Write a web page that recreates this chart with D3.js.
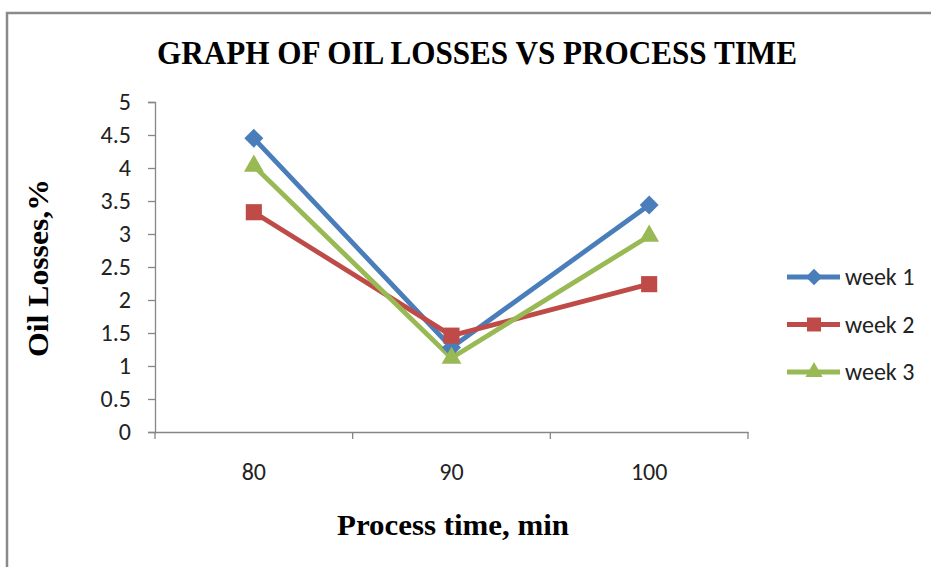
<!DOCTYPE html>
<html>
<head>
<meta charset="utf-8">
<script src="https://cdn.jsdelivr.net/npm/d3@7"></script>
<style>
  html, body { margin: 0; padding: 0; background: #fff; }
  svg { display: block; }
</style>
</head>
<body>
<svg id="chart" width="931" height="567"></svg>
<script>
// Process time categories (min) and oil losses (%) per week
const processTimes = ["80", "90", "100"];
const week1 = [4.45, 1.28, 3.44];
const week2 = [3.33, 1.46, 2.24];
const week3 = [4.03, 1.12, 2.97];
const seriesNames = ["week 1", "week 2", "week 3"];
const yTicks = [0, 0.5, 1, 1.5, 2, 2.5, 3, 3.5, 4, 4.5, 5];

// square turned 45 degrees, as a wide diamond marker
const wideDiamond = {
  draw(context, size) {
    const r = Math.sqrt(size) / Math.SQRT2;
    context.moveTo(0, -r);
    context.lineTo(r, 0);
    context.lineTo(0, r);
    context.lineTo(-r, 0);
    context.closePath();
  }
};

const series = [
  { name: seriesNames[0], values: week1, color: "#4a7ebb", symbol: wideDiamond, size: 180 },
  { name: seriesNames[1], values: week2, color: "#be4b48", symbol: d3.symbolSquare, size: 260 },
  { name: seriesNames[2], values: week3, color: "#98b954", symbol: d3.symbolTriangle, size: 170 }
];

const svg = d3.select("#chart");

// outer chart frame
svg.append("rect")
  .attr("x", 7).attr("y", 13)
  .attr("width", 940).attr("height", 570)
  .attr("fill", "#fff")
  .attr("stroke", "#8a8a8a").attr("stroke-width", 2.5);

const plot = { left: 155, right: 748, top: 102, bottom: 432 };

const x = d3.scaleBand().domain(processTimes).range([plot.left, plot.right]);
const y = d3.scaleLinear().domain([0, 5]).range([plot.bottom, plot.top]);

const axisColor = "#868686";
const tickFont = "Calibri, Carlito, 'Open Sans', sans-serif";

// y axis
const yAxis = svg.append("g")
  .attr("transform", `translate(${plot.left},0)`)
  .call(d3.axisLeft(y).tickValues(yTicks).tickSize(7).tickPadding(17).tickFormat(d3.format("")));
yAxis.select(".domain").attr("stroke", axisColor).attr("stroke-width", 1.3);
yAxis.selectAll(".tick line").attr("stroke", axisColor).attr("stroke-width", 1.3);
yAxis.selectAll(".tick text")
  .attr("fill", "#222").style("font-family", tickFont).style("font-size", "24px");

// x axis with tick marks on category boundaries
const xAxis = svg.append("g")
  .attr("transform", `translate(0,${plot.bottom})`)
  .call(d3.axisBottom(x).tickSize(0).tickPadding(31));
xAxis.select(".domain").attr("stroke", axisColor).attr("stroke-width", 1.3);
xAxis.selectAll(".tick text")
  .attr("fill", "#222").style("font-family", tickFont).style("font-size", "24px");
const boundaries = processTimes.map(c => x(c)).concat([x(processTimes[processTimes.length - 1]) + x.bandwidth()]);
xAxis.selectAll(".bound").data(boundaries).enter().append("line")
  .attr("class", "bound")
  .attr("x1", d => d).attr("x2", d => d)
  .attr("y1", 0).attr("y2", 7)
  .attr("stroke", axisColor).attr("stroke-width", 1.3);

const cx = c => x(c) + x.bandwidth() / 2;

const line = d3.line()
  .x((d, i) => cx(processTimes[i]))
  .y(d => y(d));

series.forEach(s => {
  svg.append("path")
    .datum(s.values)
    .attr("d", line)
    .attr("fill", "none")
    .attr("stroke", s.color)
    .attr("stroke-width", 4.8)
    .attr("stroke-linejoin", "round");
});

series.forEach(s => {
  svg.selectAll(null).data(s.values).enter().append("path")
    .attr("d", d3.symbol().type(s.symbol).size(s.size))
    .attr("transform", (d, i) => `translate(${cx(processTimes[i])},${y(d)})`)
    .attr("fill", s.color);
});

// legend
const legend = svg.append("g").attr("transform", "translate(787,277)");
series.forEach((s, i) => {
  const g = legend.append("g").attr("transform", `translate(0,${i * 47.5})`);
  g.append("line").attr("x1", 0).attr("x2", 53).attr("y1", 0).attr("y2", 0)
    .attr("stroke", s.color).attr("stroke-width", 4.8);
  g.append("path").attr("d", d3.symbol().type(s.symbol).size(s.size * 0.75))
    .attr("transform", "translate(27,0)").attr("fill", s.color);
  g.append("text").attr("x", 58).attr("y", 0).attr("dy", "0.35em")
    .attr("fill", "#222").style("font-family", tickFont).style("font-size", "24px")
    .text(s.name);
});

// titles
const titleFont = "'Liberation Serif', 'Times New Roman', serif";
svg.append("text")
  .attr("x", 477).attr("y", 64)
  .attr("text-anchor", "middle")
  .attr("textLength", 640).attr("lengthAdjust", "spacingAndGlyphs")
  .style("font-family", titleFont).style("font-weight", "bold").style("font-size", "33px")
  .attr("fill", "#000")
  .text("GRAPH OF OIL LOSSES VS PROCESS TIME");

svg.append("text")
  .attr("x", 453).attr("y", 535)
  .attr("text-anchor", "middle")
  .attr("textLength", 232).attr("lengthAdjust", "spacingAndGlyphs")
  .style("font-family", titleFont).style("font-weight", "bold").style("font-size", "30px")
  .attr("fill", "#000")
  .text("Process time, min");

svg.append("text")
  .attr("transform", "translate(48,268) rotate(-90)")
  .attr("text-anchor", "middle")
  .attr("textLength", 178).attr("lengthAdjust", "spacingAndGlyphs")
  .style("font-family", titleFont).style("font-weight", "bold").style("font-size", "30px")
  .attr("fill", "#000")
  .text("Oil Losses,%");
</script>
</body>
</html>
